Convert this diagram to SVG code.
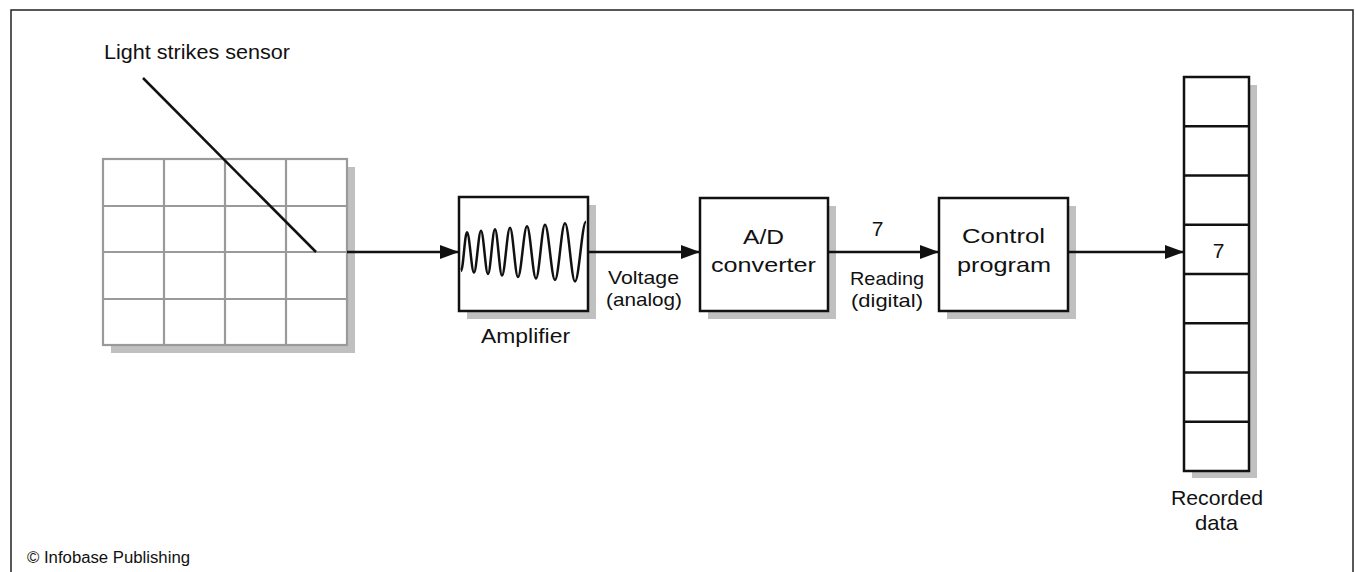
<svg xmlns="http://www.w3.org/2000/svg" width="1355" height="572" viewBox="0 0 1355 572">
<defs>
<style>
.lbl{font-family:"Liberation Sans",Arial,sans-serif;font-size:21px;fill:#111;text-anchor:middle}
.sm{font-size:19px}
.shadow{fill:#c0c0c0;stroke:none}
.box{fill:#fff;stroke:#111;stroke-width:2.5}
.grid{stroke:#9a9a9a;stroke-width:2.2;fill:none}
.gridbg{stroke:#9a9a9a;stroke-width:2.2;fill:#fff}
.conn{stroke:#111;stroke-width:2.5;fill:none}
</style>
<marker id="arrow" viewBox="0 0 19 14" refX="19" refY="7" markerWidth="19" markerHeight="14" markerUnits="userSpaceOnUse" orient="auto">
<path d="M0,0 L19,7 L0,14 z" fill="#111"/>
</marker>
</defs>
<rect width="1355" height="572" fill="#fff"/>
<rect x="11" y="10" width="1342" height="620" fill="none" stroke="#222" stroke-width="1.5"/>

<g id="sensor">
<rect class="shadow" x="111" y="167" width="244" height="186"/>
<rect class="gridbg" x="103" y="159" width="244" height="186"/>
<path class="grid" d="M164,159 V345 M225,159 V345 M286,159 V345 M103,206 H347 M103,252 H347 M103,299 H347"/>
<text class="lbl" x="197" y="59" textLength="186" lengthAdjust="spacingAndGlyphs">Light strikes sensor</text>
<line x1="143" y1="78" x2="316" y2="252" stroke="#111" stroke-width="2.5"/>
</g>

<g id="amplifier">
<rect class="shadow" x="467" y="205" width="129" height="114"/>
<rect class="box" x="459" y="197" width="129" height="114"/>
<path fill="none" stroke="#111" stroke-width="2.5" d="M461,271 C463.2,271 464.8,232.25 467,232.25 C469.5,232.25 471.5,272.5 474,272.5 C476.5,272.5 478.5,230.75 481,230.75 C483.5,230.75 485.5,274 488,274 C490.5,274 492.5,229.250 495,229.25 C497.5,229.25 499.5,275.5 502,275.5 C504.9,275.5 507.1,227.75 510,227.75 C512.9,227.75 515.1,277 518,277 C521.2,277 523.8,226.25 527,226.25 C530.2,226.25 532.8,278.5 536,278.5 C539.2,278.5 541.8,224.75 545,224.75 C548.6,224.75 551.4,280 555,280 C558.6,280 561.4,223.25 565,223.25 C568.6,223.25 571.4,281.5 575,281.5 C579,281.5 582,221.75 586,221.75"/>
<text class="lbl" x="525.5" y="343" textLength="89" lengthAdjust="spacingAndGlyphs">Amplifier</text>
</g>

<g id="adconverter">
<rect class="shadow" x="708" y="206" width="128" height="113"/>
<rect class="box" x="700" y="198" width="128" height="113"/>
<text class="lbl" x="763.5" y="244" textLength="41" lengthAdjust="spacingAndGlyphs">A/D</text>
<text class="lbl" x="763.5" y="272" textLength="105" lengthAdjust="spacingAndGlyphs">converter</text>
</g>

<g id="control">
<rect class="shadow" x="947" y="206" width="129" height="113"/>
<rect class="box" x="939" y="198" width="129" height="113"/>
<text class="lbl" x="1003.5" y="243" textLength="83" lengthAdjust="spacingAndGlyphs">Control</text>
<text class="lbl" x="1004" y="272" textLength="94" lengthAdjust="spacingAndGlyphs">program</text>
</g>

<g id="recorded">
<rect class="shadow" x="1192" y="85" width="65" height="393"/>
<rect class="box" x="1184" y="77" width="65" height="394"/>
<path stroke="#111" stroke-width="2.5" d="M1184,126.25 H1249 M1184,175.5 H1249 M1184,224.75 H1249 M1184,274 H1249 M1184,323.25 H1249 M1184,372.5 H1249 M1184,421.75 H1249"/>
<text class="lbl" x="1218.5" y="258">7</text>
<text class="lbl" x="1217" y="505" textLength="92" lengthAdjust="spacingAndGlyphs">Recorded</text>
<text class="lbl" x="1216.5" y="530" textLength="43" lengthAdjust="spacingAndGlyphs">data</text>
</g>

<g id="connectors">
<line class="conn" x1="347" y1="252" x2="459" y2="252" marker-end="url(#arrow)"/>
<line class="conn" x1="588" y1="252" x2="700" y2="252" marker-end="url(#arrow)"/>
<line class="conn" x1="828" y1="252" x2="939" y2="252" marker-end="url(#arrow)"/>
<line class="conn" x1="1068" y1="252" x2="1184" y2="252" marker-end="url(#arrow)"/>
<text class="lbl sm" x="643.5" y="284" textLength="71" lengthAdjust="spacingAndGlyphs">Voltage</text>
<text class="lbl sm" x="644" y="306" textLength="76" lengthAdjust="spacingAndGlyphs">(analog)</text>
<text class="lbl" x="877.5" y="236">7</text>
<text class="lbl sm" x="887" y="285" textLength="74" lengthAdjust="spacingAndGlyphs">Reading</text>
<text class="lbl sm" x="887" y="307" textLength="72" lengthAdjust="spacingAndGlyphs">(digital)</text>
</g>

<text x="27" y="563" font-family="'Liberation Sans',Arial,sans-serif" font-size="16" fill="#111" textLength="163" lengthAdjust="spacingAndGlyphs">© Infobase Publishing</text>
</svg>
